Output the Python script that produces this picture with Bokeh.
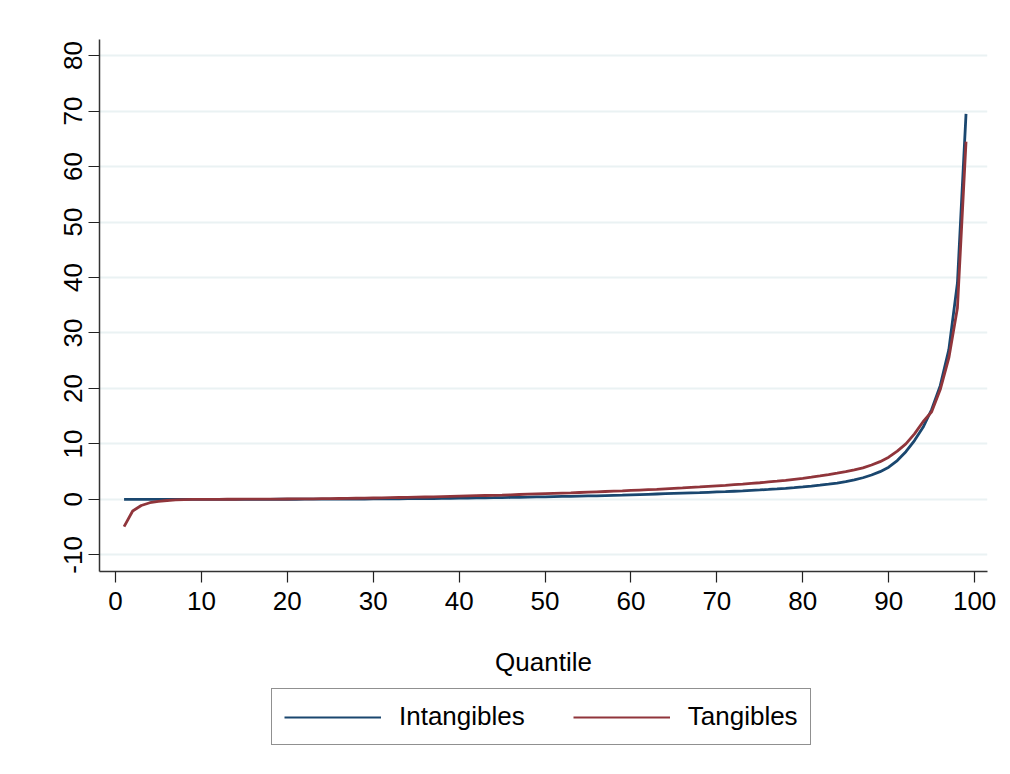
from bokeh.plotting import figure
from bokeh.layouts import column
from bokeh.models import Range1d, FixedTicker, Legend, LegendItem
from bokeh.embed import file_html
from bokeh.resources import INLINE

quantile = list(range(1, 100))

intangibles = [
    0.00, 0.00, 0.00, 0.00, 0.00, 0.00, 0.00, 0.00, 0.00, 0.00,
    0.00, 0.00, 0.00, 0.00, 0.01, 0.01, 0.01, 0.01, 0.02, 0.02,
    0.02, 0.03, 0.03, 0.04, 0.04, 0.05, 0.05, 0.06, 0.07, 0.08,
    0.09, 0.10, 0.11, 0.12, 0.13, 0.15, 0.16, 0.18, 0.20, 0.22,
    0.24, 0.26, 0.28, 0.30, 0.33, 0.35, 0.38, 0.41, 0.44, 0.47,
    0.50, 0.53, 0.56, 0.59, 0.62, 0.65, 0.69, 0.73, 0.77, 0.82,
    0.87, 0.92, 0.97, 1.02, 1.07, 1.12, 1.17, 1.22, 1.28, 1.34,
    1.40, 1.47, 1.54, 1.62, 1.70, 1.79, 1.89, 2.00, 2.12, 2.25,
    2.40, 2.56, 2.74, 2.95, 3.20, 3.50, 3.90, 4.40, 5.00, 5.80,
    7.00, 8.60, 10.60, 13.00, 16.20, 20.50, 27.00, 39.00, 69.50,
]

tangibles = [
    -4.90, -2.10, -1.10, -0.60, -0.35, -0.20, -0.10, -0.04, 0.00, 0.00,
    0.01, 0.01, 0.02, 0.02, 0.03, 0.03, 0.04, 0.05, 0.06, 0.07,
    0.08, 0.09, 0.10, 0.12, 0.14, 0.16, 0.18, 0.20, 0.22, 0.25,
    0.28, 0.31, 0.34, 0.37, 0.40, 0.43, 0.46, 0.50, 0.54, 0.58,
    0.62, 0.66, 0.70, 0.74, 0.78, 0.83, 0.88, 0.93, 0.98, 1.03,
    1.08, 1.13, 1.18, 1.24, 1.30, 1.36, 1.42, 1.48, 1.54, 1.61,
    1.68, 1.75, 1.82, 1.90, 1.98, 2.06, 2.15, 2.24, 2.34, 2.44,
    2.54, 2.65, 2.76, 2.88, 3.00, 3.14, 3.28, 3.44, 3.62, 3.80,
    4.00, 4.22, 4.46, 4.72, 5.00, 5.32, 5.68, 6.20, 6.80, 7.60,
    8.70, 10.00, 11.80, 14.00, 15.80, 19.80, 25.50, 34.50, 64.50,
]

x_ticks = [0, 10, 20, 30, 40, 50, 60, 70, 80, 90, 100]
y_ticks = [-10, 0, 10, 20, 30, 40, 50, 60, 70, 80]
y_tick_labels = {t: str(t) for t in y_ticks}
series_names = ["Intangibles", "Tangibles"]

FONT = "Liberation Sans"
BLUE = "#1a476f"
RED = "#90353b"
LW = 2.8

p = figure(width=1010, height=680, output_backend="svg", toolbar_location=None,
           x_range=Range1d(-1.86, 101.5), y_range=Range1d(-13.0, 82.9))
p.min_border_left = 99
p.min_border_right = 23
p.min_border_top = 39
p.min_border_bottom = 109
p.outline_line_color = None
p.background_fill_color = "white"
p.border_fill_color = "white"

p.line(quantile, intangibles, line_color=BLUE, line_width=LW)
p.line(quantile, tangibles, line_color=RED, line_width=LW)

# axes
p.xaxis.ticker = FixedTicker(ticks=x_ticks)
p.yaxis.ticker = FixedTicker(ticks=y_ticks)
p.yaxis.major_label_overrides = y_tick_labels
for ax in (p.xaxis, p.yaxis):
    ax.axis_line_color = "#333333"
    ax.axis_line_width = 1.5
    ax.major_tick_line_color = "#222222"
    ax.major_tick_line_width = 1.2
    ax.major_tick_out = 11
    ax.major_tick_in = 0
    ax.minor_tick_line_color = None
    ax.major_label_text_font = FONT
    ax.major_label_text_font_size = "26px"
    ax.major_label_text_color = "black"
p.xaxis.major_label_standoff = 9
p.yaxis.major_label_standoff = 6
p.yaxis.major_label_orientation = "vertical"
p.xaxis.axis_label = "Quantile"
p.xaxis.axis_label_text_font = FONT
p.xaxis.axis_label_text_font_size = "26px"
p.xaxis.axis_label_text_font_style = "normal"
p.xaxis.axis_label_text_color = "black"
p.xaxis.axis_label_standoff = 34

# grid
p.xgrid.grid_line_color = None
p.ygrid.ticker = FixedTicker(ticks=y_ticks)
p.ygrid.grid_line_color = "#eaf2f3"
p.ygrid.grid_line_width = 2

# legend strip below the chart
lf = figure(width=1010, height=94, output_backend="svg", toolbar_location=None,
            x_range=Range1d(0, 1), y_range=Range1d(0, 1),
            x_axis_location=None, y_axis_location=None)
lf.min_border = 0
lf.outline_line_color = None
lf.grid.visible = False
lf.background_fill_color = "white"
lf.border_fill_color = "white"
# off-screen stand-ins that only supply the legend swatches
g1 = lf.line([-10, -9], [-10, -10], line_color=BLUE, line_width=2.2)
g2 = lf.line([-10, -9], [-10, -10], line_color=RED, line_width=2.2)

legend = Legend(items=[LegendItem(label=series_names[0], renderers=[g1]),
                       LegendItem(label=series_names[1], renderers=[g2])],
                orientation="horizontal", location=(172, 29))
legend.label_text_font = FONT
legend.label_text_font_size = "26px"
legend.label_text_color = "black"
legend.glyph_width = 97
legend.glyph_height = 30
legend.label_standoff = 18
legend.spacing = 48
legend.padding = 12
legend.margin = 0
legend.border_line_color = "#222222"
legend.border_line_width = 1
legend.background_fill_color = "white"
legend.background_fill_alpha = 1.0
lf.add_layout(legend, "center")

layout = column(p, lf, spacing=0)
open("out.html", "w").write(file_html(layout, INLINE))
